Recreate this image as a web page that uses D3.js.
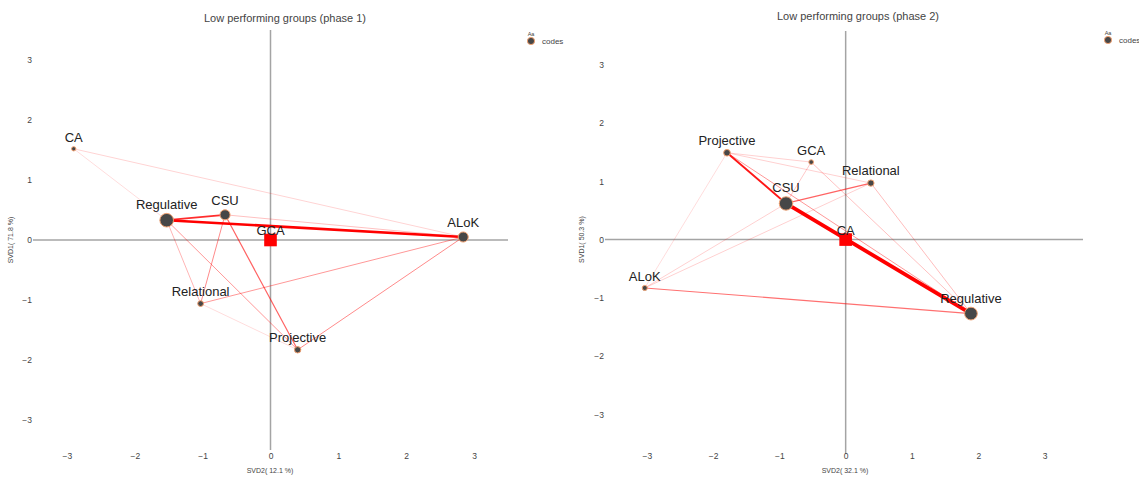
<!DOCTYPE html>
<html><head><meta charset="utf-8">
<script src="https://cdn.jsdelivr.net/npm/d3@7"></script>
<style>
body{margin:0;background:#fff;}
svg text{font-family:"Liberation Sans",Arial,Helvetica,sans-serif;}
</style>
</head><body>
<svg id="chart" width="1139" height="481"></svg>
<script>
// ---------------- data ----------------
const tickValues = [-3, -2, -1, 0, 1, 2, 3];
const legendLabel = "codes";

// Phase 1
const p1Title = "Low performing groups (phase 1)";
const p1XTitle = "SVD2( 12.1 %)";
const p1YTitle = "SVD1( 71.8 %)";
const p1Codes  = ["CA", "Regulative", "CSU", "GCA", "ALoK", "Relational", "Projective"];
const p1SVD2   = [-2.90, -1.53, -0.67, 0.00, 2.84, -1.03, 0.40];
const p1SVD1   = [ 1.52,  0.33,  0.42, 0.00, 0.05, -1.06, -1.83];
const p1Weight = [ 0.10,  1.00,  0.55, 0.00, 0.55,  0.18,  0.22];
const p1Center = "GCA";
const p1EdgeFrom   = ["Regulative", "Regulative", "CSU",        "Projective", "Relational", "Regulative", "CSU",        "Regulative", "CSU",  "CA",   "CA",         "Relational"];
const p1EdgeTo     = ["ALoK",       "CSU",        "Projective", "ALoK",       "ALoK",       "Projective", "Relational", "Relational", "ALoK", "ALoK", "Regulative", "Projective"];
const p1EdgeWeight = [0.70,         0.45,         0.33,         0.26,         0.24,         0.24,         0.26,         0.17,         0.14,   0.09,   0.07,         0.07];

// Phase 2
const p2Title = "Low performing groups (phase 2)";
const p2XTitle = "SVD2( 32.1 %)";
const p2YTitle = "SVD1( 50.3 %)";
const p2Codes  = ["Projective", "GCA", "Relational", "CSU", "CA", "ALoK", "Regulative"];
const p2SVD2   = [-1.79, -0.52, 0.38, -0.90, 0.00, -3.03, 1.89];
const p2SVD1   = [ 1.49,  1.33, 0.97,  0.62, 0.00, -0.83, -1.27];
const p2Weight = [ 0.24,  0.12, 0.22,  0.97, 0.00,  0.14, 0.88];
const p2Center = "CA";
const p2EdgeFrom   = ["CSU",        "Projective", "CSU",        "ALoK",       "Projective", "Relational", "GCA",        "Projective", "Projective", "GCA", "ALoK", "ALoK",       "ALoK"];
const p2EdgeTo     = ["Regulative", "CSU",        "Relational", "Regulative", "Regulative", "Regulative", "Regulative", "GCA",        "Relational", "CSU", "CSU",  "Relational", "Projective"];
const p2EdgeWeight = [1.00,         0.50,         0.33,         0.30,         0.24,         0.15,         0.14,         0.10,         0.10,         0.12,  0.10,   0.10,         0.07];

// ---------------- layout ----------------
const panels = [
  { title: p1Title, xTitle: p1XTitle, yTitle: p1YTitle, codes: p1Codes, xs: p1SVD2, ys: p1SVD1, w: p1Weight,
    center: p1Center, from: p1EdgeFrom, to: p1EdgeTo, ew: p1EdgeWeight,
    xDomain: [-3.5, 3.5], xRange: [33, 508], yDomain: [-3.5, 3.5], yRange: [450, 30],
    titleX: 285, titleY: 22, xTitleX: 270, yTitleX: 13, tickLabelX: 32,
    legendX: 531, legendY: 41 },
  { title: p2Title, xTitle: p2XTitle, yTitle: p2YTitle, codes: p2Codes, xs: p2SVD2, ys: p2SVD1, w: p2Weight,
    center: p2Center, from: p2EdgeFrom, to: p2EdgeTo, ew: p2EdgeWeight,
    xDomain: [-3.63, 3.58], xRange: [605, 1083], yDomain: [-3.68, 3.58], yRange: [454, 31],
    titleX: 858, titleY: 20, xTitleX: 845, yTitleX: 584, tickLabelX: 604,
    legendX: 1108, legendY: 40 }
];

const svg = d3.select("#chart");
const rScale = d3.scaleSqrt().domain([0, 1]).range([0, 6.8]);
const widthScale = d3.scaleLinear().domain([0.25, 1]).range([0.9, 3.8]).clamp(true);
const opacityScale = d3.scaleLinear().domain([0.05, 0.55]).range([0.12, 1]).clamp(true);

panels.forEach(p => {
  const g = svg.append("g");
  const x = d3.scaleLinear().domain(p.xDomain).range(p.xRange);
  const y = d3.scaleLinear().domain(p.yDomain).range(p.yRange);

  // title
  g.append("text").attr("x", p.titleX).attr("y", p.titleY).attr("text-anchor", "middle")
    .attr("font-size", 11).attr("fill", "#444").text(p.title);

  // zero lines
  g.append("line").attr("x1", x.range()[0]).attr("x2", x.range()[1]).attr("y1", y(0)).attr("y2", y(0))
    .attr("stroke", "#a4a4a4").attr("stroke-width", 1.5);
  g.append("line").attr("x1", x(0)).attr("x2", x(0)).attr("y1", y.range()[0]).attr("y2", y.range()[1])
    .attr("stroke", "#a4a4a4").attr("stroke-width", 1.5);

  // axes tick labels via d3 axes
  const xAxis = d3.axisBottom(x).tickValues(tickValues).tickSize(0).tickPadding(0)
    .tickFormat(d => d3.format("")(d).replace("-", "\u2212"));
  const xa = g.append("g").attr("transform", `translate(0,${p.yRange[0] === 450 ? 450 : 450})`).call(xAxis);
  xa.select(".domain").remove();
  xa.selectAll("text").attr("font-size", 8.5).attr("fill", "#444").attr("dy", null).attr("y", 9);

  const yAxis = d3.axisLeft(y).tickValues(tickValues).tickSize(0).tickPadding(0)
    .tickFormat(d => d3.format("")(d).replace("-", "\u2212"));
  const ya = g.append("g").attr("transform", `translate(${p.tickLabelX},0)`).call(yAxis);
  ya.select(".domain").remove();
  ya.selectAll("text").attr("font-size", 8.5).attr("fill", "#444");

  // axis titles
  g.append("text").attr("x", p.xTitleX).attr("y", 473).attr("text-anchor", "middle")
    .attr("font-size", 7).attr("fill", "#444").text(p.xTitle);
  g.append("text").attr("transform", `translate(${p.yTitleX},${y(0)}) rotate(-90)`).attr("text-anchor", "middle")
    .attr("font-size", 7).attr("fill", "#444").text(p.yTitle);

  // nodes
  const nodes = p.codes.map((c, i) => ({ code: c, x: p.xs[i], y: p.ys[i], w: p.w[i], center: c === p.center }));
  const byCode = new Map(nodes.map(n => [n.code, n]));
  const edges = p.from.map((f, i) => ({ a: byCode.get(f), b: byCode.get(p.to[i]), w: p.ew[i] }))
    .sort((e1, e2) => e1.w - e2.w);

  g.append("g").selectAll("line").data(edges).join("line")
    .attr("x1", d => x(d.a.x)).attr("y1", d => y(d.a.y))
    .attr("x2", d => x(d.b.x)).attr("y2", d => y(d.b.y))
    .attr("stroke", "#ff0000")
    .attr("stroke-opacity", d => opacityScale(d.w))
    .attr("stroke-width", d => widthScale(d.w))
    .attr("stroke-linecap", "round");

  const circ = nodes.filter(n => !n.center);
  g.append("g").selectAll("circle").data(circ).join("circle")
    .attr("cx", d => x(d.x)).attr("cy", d => y(d.y)).attr("r", d => rScale(d.w))
    .attr("fill", "#474747").attr("stroke", "#f0a070").attr("stroke-width", 1);

  const sq = nodes.filter(n => n.center);
  g.append("g").selectAll("rect").data(sq).join("rect")
    .attr("x", d => x(d.x) - 6.3).attr("y", d => y(d.y) - 6.3).attr("width", 12.6).attr("height", 12.6)
    .attr("fill", "#ff0000");

  g.append("g").selectAll("text").data(nodes).join("text")
    .attr("x", d => x(d.x))
    .attr("y", d => d.center ? y(d.y) - 5 : y(d.y) - rScale(d.w) - 4.5)
    .attr("text-anchor", "middle").attr("font-size", 13).attr("fill", "#222")
    .text(d => d.code);

  // legend
  g.append("text").attr("x", p.legendX).attr("y", p.legendY - 5).attr("text-anchor", "middle")
    .attr("font-size", 5.5).attr("fill", "#444").text("Aa");
  g.append("circle").attr("cx", p.legendX).attr("cy", p.legendY).attr("r", 3.6)
    .attr("fill", "#474747").attr("stroke", "#f0a070").attr("stroke-width", 1);
  g.append("text").attr("x", p.legendX + 11).attr("y", p.legendY + 3).attr("font-size", 8)
    .attr("fill", "#444").text(legendLabel);
});
</script>
</body></html>
